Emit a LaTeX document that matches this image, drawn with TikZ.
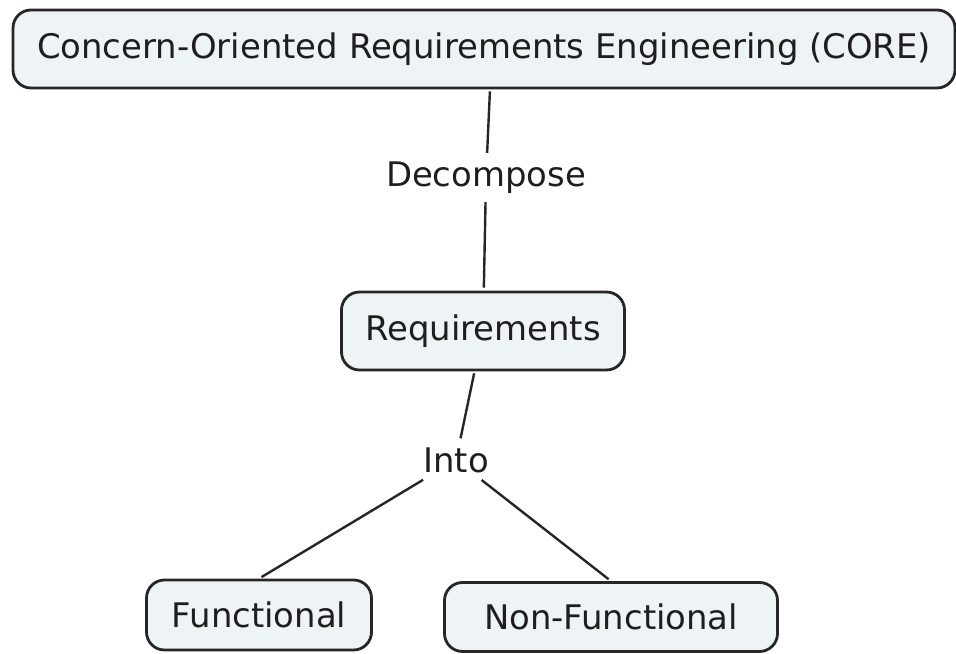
\documentclass[tikz,border=0pt]{standalone}
\usepackage{fontspec}
\setmainfont{DejaVu Sans}
\definecolor{conceptfill}{HTML}{EEF3F6}
\definecolor{conceptdraw}{HTML}{262626}
\definecolor{linktext}{HTML}{1E1E1E}

\begin{document}
\begin{tikzpicture}[x=1bp,y=-1bp]
  \tikzset{concept/.style = {draw=conceptdraw,fill=conceptfill,line width=2.8bp,rounded corners=18bp,
      text=linktext,font=\fontsize{34}{40}\selectfont,inner sep=0pt}}
  \tikzset{linkword/.style = {draw=none,text=linktext,font=\fontsize{34}{40}\selectfont,inner sep=6bp}}
  \tikzset{edge/.style = {-,line width=2.4bp,draw=conceptdraw,shorten <=2bp,shorten >=3bp}}

  \useasboundingbox (0,0) rectangle (956,654);

\node[concept,minimum width=942bp,minimum height=78bp] (core)  at (484,49) {Concern-Oriented Requirements Engineering (CORE)};
\node[linkword] (decomp)  at (486,178) {Decompose};
\node[concept,minimum width=283bp,minimum height=78bp] (req)  at (483,331) {Requirements};
\node[linkword] (into)  at (456,460) {Into};
\node[concept,minimum width=225bp,minimum height=70bp] (func)  at (259,615) {Functional};
\node[concept,minimum width=333bp,minimum height=69bp] (nonfunc)  at (611,617) {Non-Functional};

    \path ([xshift=6bp]core.south) edge[edge] (decomp);
      \path (decomp) edge[edge] (req);

        \path (req) edge[edge] (into);
        \path (into) edge[edge] (func.north);
        \path (into) edge[edge] (nonfunc.north);

\end{tikzpicture}
\end{document}
